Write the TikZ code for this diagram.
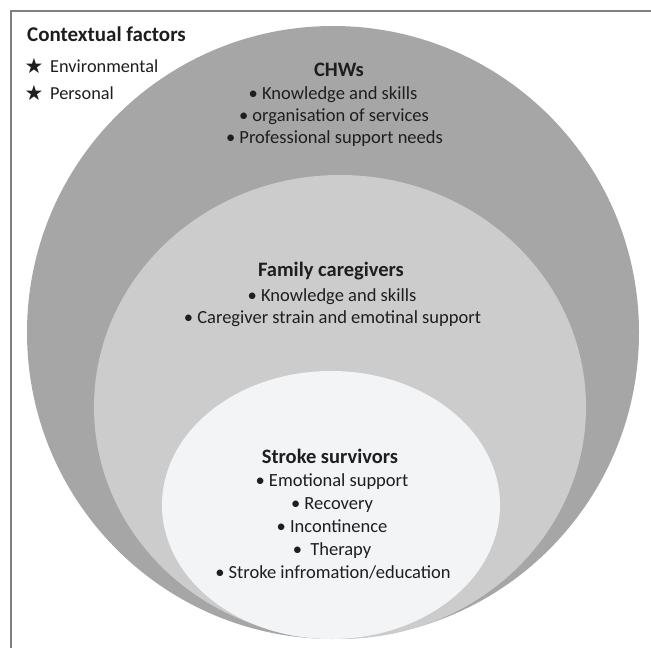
\documentclass[tikz,border=0pt]{standalone}
\usepackage{fontspec}
\setmainfont{Carlito}
\newfontfamily\symfont{DejaVu Sans}
\usetikzlibrary{shapes.geometric}
\definecolor{outergray}{HTML}{A6A6A6}
\definecolor{midgray}{HTML}{CCCCCC}
\definecolor{innergray}{HTML}{F3F4F6}
\definecolor{txt}{HTML}{1E1E1E}
\definecolor{framegray}{HTML}{808080}
\tikzset{
  blob/.style={ellipse, draw=none, inner sep=0pt},
  body/.style={anchor=base, inner sep=0pt, text=txt, font=\fontsize{18.5}{22}\selectfont},
  head/.style={anchor=base, inner sep=0pt, text=txt, font=\fontsize{20.5}{24}\selectfont\bfseries},
  legend/.style={anchor=base west, inner sep=0pt, text=txt, font=\fontsize{18.3}{22}\selectfont},
  star/.style={anchor=center, inner sep=0pt, text=txt, font=\symfont\fontsize{21}{24}\selectfont},
}
\begin{document}
\begin{tikzpicture}[x=1pt,y=-1pt]
\useasboundingbox (0,0) rectangle (651,648);
% frame (only top and left visible)
\coordinate (fbl) at (11,648);
\coordinate (ftl) at (11,11);
\coordinate (ftr) at (651,11);
\draw[framegray, line width=1.2pt] (fbl) -- (ftl) -- (ftr);
% nested ellipses
\node[blob, fill=outergray, minimum width=612pt, minimum height=613pt] (outer) at (333,332.5) {};
\node[blob, fill=midgray, minimum width=492pt, minimum height=464pt] (middle) at (340,407) {};
\node[blob, fill=innergray, minimum width=338pt, minimum height=268pt] (inner) at (331,505) {};
% legend
\node[anchor=base west, inner sep=0pt, text=txt, font=\fontsize{21}{24}\selectfont\bfseries] (ctx) at (27,41) {Contextual factors};
\node[star] (s1) at (34,66) {★};
\node[legend] (env) at (50,72) {Environmental};
\node[star] (s2) at (34,93) {★};
\node[legend] (pers) at (50,99) {Personal};
% CHWs
\node[head] (chw) at (339,76) {CHWs};
\node[body] (chw1) at (333,99.5) {• Knowledge and skills};
\node[body] (chw2) at (334,121.5) {• organisation of services};
\node[body] (chw3) at (334.5,143) {• Professional support needs};
% family
\node[head] (fam) at (331,276) {Family caregivers};
\node[body] (fam1) at (332,301) {• Knowledge and skills};
\node[body] (fam2) at (332.5,323) {• Caregiver strain and emotinal support};
% stroke survivors
\node[head] (ss) at (330,463) {Stroke survivors};
\node[body] (ss1) at (332,486) {• Emotional support};
\node[body] (ss2) at (332,509) {• Recovery};
\node[body] (ss3) at (332,532) {• Incontinence};
\node[body] (ss4) at (332,555) {•\ \ Therapy};
\node[body] (ss5) at (333,578) {• Stroke infromation/education};
\end{tikzpicture}
\end{document}
